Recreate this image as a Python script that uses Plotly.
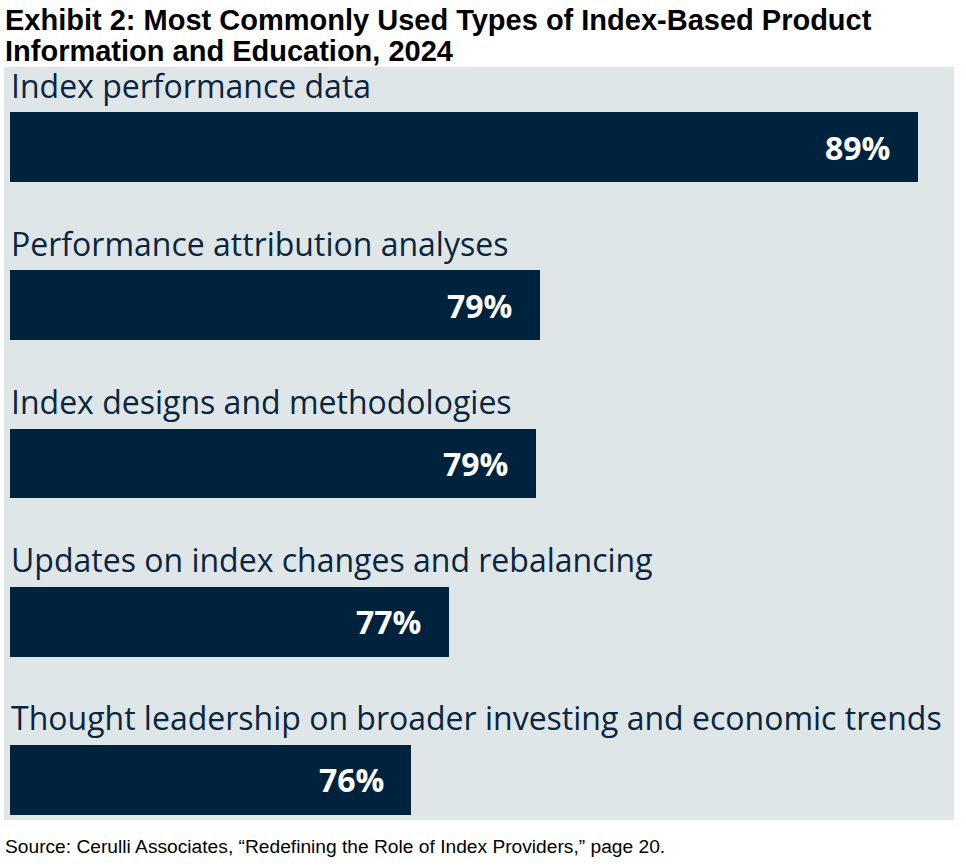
import plotly.graph_objects as go

categories = [
    "Index performance data",
    "Performance attribution analyses",
    "Index designs and methodologies",
    "Updates on index changes and rebalancing",
    "Thought leadership on broader investing and economic trends",
]
values = [89.0, 79.0, 78.9, 76.6, 75.6]
value_labels = ["89%", "79%", "79%", "77%", "76%"]

title_lines = [
    "Exhibit 2: Most Commonly Used Types of Index-Based Product",
    "Information and Education, 2024",
]
source = "Source: Cerulli Associates, \u201cRedefining the Role of Index Providers,\u201d page 20."

W, H = 966, 868
ML, MR, MT, MB = 10, 12, 67, 48
PW = W - ML - MR
PH = H - MT - MB

BAR = "#00233D"
PANEL = "#DFE6E8"
TEXT = "#0B2540"

pos = list(range(len(categories)))

fig = go.Figure()
fig.add_trace(go.Bar(
    x=values, y=pos, orientation="h",
    marker=dict(color=BAR, line=dict(width=0)),
    width=0.442, hoverinfo="skip", showlegend=False,
))

annotations = []
for p, c, v, lab in zip(pos, categories, values, value_labels):
    annotations.append(dict(
        x=0, xref="paper", y=p, yref="y", text=c, showarrow=False,
        xanchor="left", yanchor="middle", yshift=62, xshift=-1,
        font=dict(family="Open Sans", size=32, color=TEXT),
    ))
    annotations.append(dict(
        x=v, xref="x", y=p, yref="y", text=lab, showarrow=False,
        xanchor="center", yanchor="middle", xshift=-60,
        font=dict(family="Open Sans", size=32, color="white", weight="bold"),
    ))

xl = (3 - ML) / PW
annotations.append(dict(
    x=xl, xref="paper", y=1, yref="paper", yshift=MT - 1.5,
    text=title_lines[0], showarrow=False, xanchor="left", yanchor="top",
    font=dict(family="Liberation Sans", size=29, color="black", weight="bold"),
))
annotations.append(dict(
    x=xl, xref="paper", y=1, yref="paper", yshift=MT - 32.5,
    text=title_lines[1], showarrow=False, xanchor="left", yanchor="top",
    font=dict(family="Liberation Sans", size=29, color="black", weight="bold"),
))
annotations.append(dict(
    x=xl, xref="paper", y=0, yref="paper", yshift=-14,
    text=source, showarrow=False, xanchor="left", yanchor="top",
    font=dict(family="Liberation Sans", size=19.2, color="black"),
))

fig.update_layout(
    width=W, height=H,
    margin=dict(l=ML, r=MR, t=MT, b=MB, pad=0),
    paper_bgcolor="white", plot_bgcolor=PANEL,
    xaxis=dict(range=[65, 65 + PW / 37.83], visible=False, fixedrange=True),
    yaxis=dict(range=[4.253, -0.506], visible=False, fixedrange=True),
    annotations=annotations,
    shapes=[dict(type="rect", xref="paper", yref="paper",
                 x0=-6 / PW, x1=1, y0=0, y1=1,
                 fillcolor=PANEL, line=dict(width=0), layer="below")],
    bargap=0,
)

fig.write_html("out.html", config={"displayModeBar": False},
               post_script="document.body.style.margin='0';")
